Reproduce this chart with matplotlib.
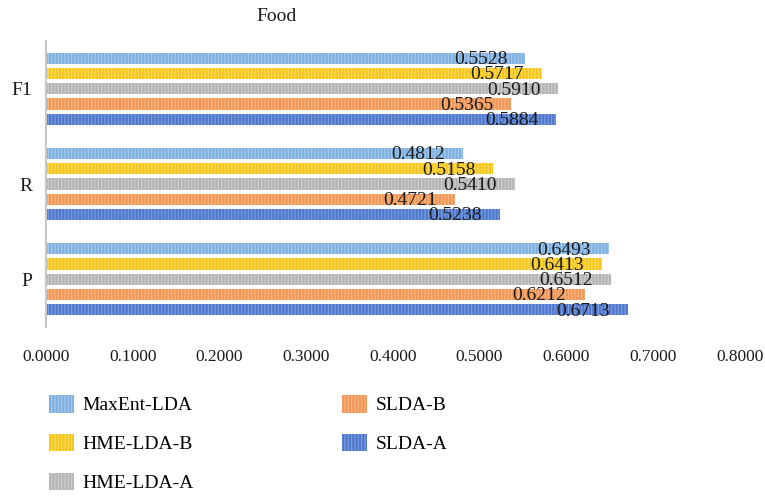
import matplotlib.pyplot as plt
import numpy as np

plt.rcParams['font.family'] = ['Liberation Serif', 'DejaVu Serif']
plt.rcParams['hatch.linewidth'] = 0.8

categories = ['P', 'R', 'F1']
methods = ['MaxEnt-LDA', 'HME-LDA-B', 'HME-LDA-A', 'SLDA-B', 'SLDA-A']
scores = {
    'MaxEnt-LDA': [0.6493, 0.4812, 0.5528],
    'HME-LDA-B': [0.6413, 0.5158, 0.5717],
    'HME-LDA-A': [0.6512, 0.5410, 0.5910],
    'SLDA-B': [0.6212, 0.4721, 0.5365],
    'SLDA-A': [0.6713, 0.5238, 0.5884],
}
colors = ['#7fb0e0', '#f7c619', '#b5b5b5', '#f29656', '#4f78cc']
stripes = ['#a9cbee', '#fbdc6a', '#cfcfcf', '#f7b88a', '#7f9fe0']

fig = plt.figure(figsize=(7.65, 4.96), dpi=100)
ax = fig.add_axes([0.060, 0.341, 0.907, 0.576])

y = np.arange(len(categories))
pitch = 0.16
for i, m in enumerate(methods):
    pos = y + (2 - i) * pitch
    ax.barh(pos, scores[m], height=0.12, color=colors[i], edgecolor=stripes[i],
            linewidth=0, hatch='|||||', label=m)
    for yy, v in zip(pos, scores[m]):
        ax.annotate(f'{v:.4f}', (v, yy), xytext=(-13, -1), textcoords='offset points',
                    ha='right', va='center', fontsize=14, color='#1a1a1a')

ax.set_xlim(0, 0.8)
ax.set_ylim(-0.5, 2.5)
ax.set_xticks(np.arange(0, 0.81, 0.1))
ax.set_xticklabels([f'{t:.4f}' for t in np.arange(0, 0.81, 0.1)], fontsize=12.5)
ax.set_yticks(y)
ax.set_yticklabels(categories, fontsize=14)
ax.tick_params(axis='both', length=0, colors='#1a1a1a')
ax.tick_params(axis='y', pad=10)
ax.tick_params(axis='x', pad=16)
for s in ['top', 'right', 'bottom']:
    ax.spines[s].set_visible(False)
ax.spines['left'].set_color('#c8c8c8')
ax.spines['left'].set_linewidth(1.5)

fig.text(0.362, 0.966, 'Food', ha='center', va='center', fontsize=14, color='#1a1a1a')

fig.legend(loc='upper left', bbox_to_anchor=(0.051, 0.223), ncol=2, frameon=False,
           fontsize=14, handlelength=1.3, handleheight=1.0, handletextpad=0.45,
           labelspacing=1.0, columnspacing=7.6, borderpad=0)

fig.savefig('out.png', dpi=100)
